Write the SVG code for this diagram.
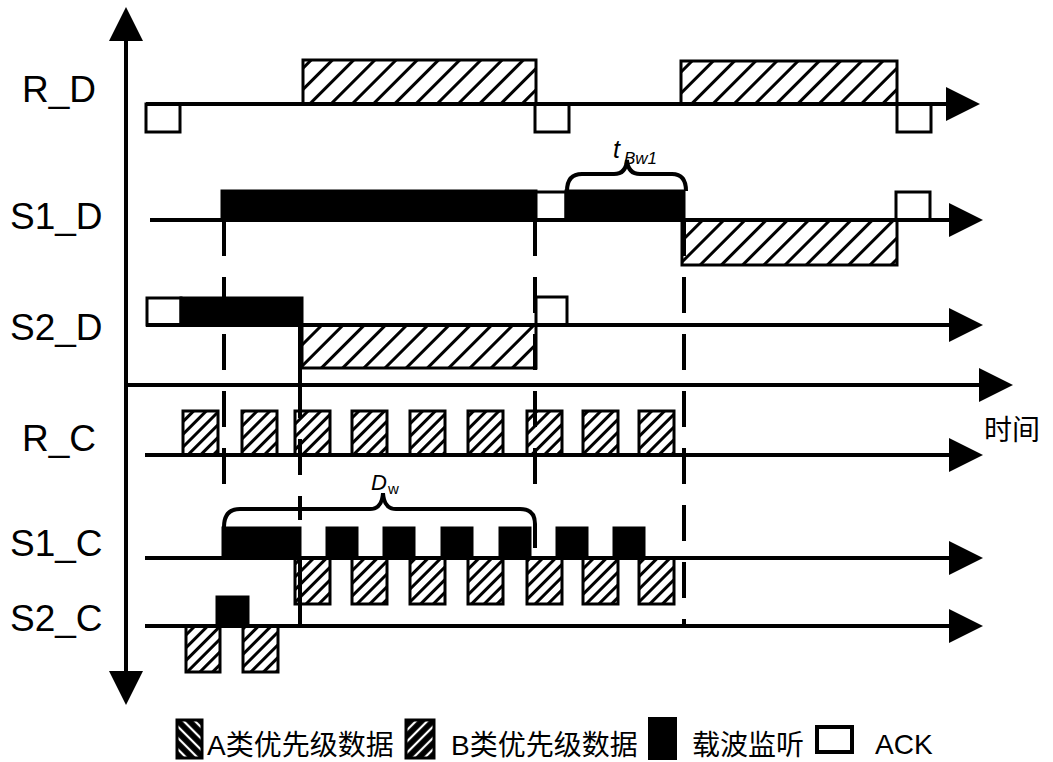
<svg xmlns="http://www.w3.org/2000/svg" width="1053" height="762" viewBox="0 0 1053 762">
<style>
.lbl{font-family:"Liberation Sans",Arial,sans-serif;font-size:37px;fill:#000}
.cjk{font-family:"Liberation Sans","Noto Sans CJK SC",sans-serif;font-size:28px;fill:#000}
.ln{stroke:#000;stroke-width:4;fill:none}
.ax{stroke:#000;stroke-width:4;fill:none;marker-end:url(#arr)}
.dash{stroke:#000;stroke-width:4;fill:none;stroke-dasharray:36 21}
.hb{fill:url(#hatchB);stroke:#000;stroke-width:3}
.hs{fill:url(#hatchS);stroke:#000;stroke-width:3}
.blk{fill:#000;stroke:#000;stroke-width:3}
.ack{fill:#fff;stroke:#000;stroke-width:3}
.it{font-family:"Liberation Sans",Arial,sans-serif;font-style:italic;fill:#000}
</style>
<defs>
<marker id="arr" markerUnits="userSpaceOnUse" markerWidth="36" markerHeight="36" refX="10" refY="17" orient="auto-start-reverse"><path d="M0,0 L34,17 L0,34 z" fill="#000"/></marker>
<pattern id="hatchB" patternUnits="userSpaceOnUse" width="15" height="15" patternTransform="rotate(45)"><line x1="7.5" y1="0" x2="7.5" y2="15" stroke="#000" stroke-width="3"/></pattern>
<pattern id="hatchS" patternUnits="userSpaceOnUse" width="9" height="9" patternTransform="rotate(45)"><line x1="4.5" y1="0" x2="4.5" y2="9" stroke="#000" stroke-width="3"/></pattern>
<pattern id="legA" patternUnits="userSpaceOnUse" width="8" height="8" patternTransform="rotate(-45)"><rect width="8" height="8" fill="#000"/><line x1="4" y1="0" x2="4" y2="8" stroke="#fff" stroke-width="2.2"/></pattern>
<pattern id="legB" patternUnits="userSpaceOnUse" width="8" height="8" patternTransform="rotate(45)"><rect width="8" height="8" fill="#000"/><line x1="4" y1="0" x2="4" y2="8" stroke="#fff" stroke-width="2.2"/></pattern>
</defs>
<rect width="1053" height="762" fill="#fff"/>

<g id="labels">
<text class="lbl" x="22" y="102">R_D</text>
<text class="lbl" x="10" y="229">S1_D</text>
<text class="lbl" x="10" y="340">S2_D</text>
<text class="lbl" x="22" y="451">R_C</text>
<text class="lbl" x="10" y="556">S1_C</text>
<text class="lbl" x="10" y="631">S2_C</text>
<text class="cjk" x="984" y="440" font-size="27">时间</text>
</g>

<g id="row-RD">
<rect class="hb" x="303" y="60" width="233" height="44"/>
<rect class="hb" x="681" y="61" width="216" height="43"/>
<rect class="ack" x="146" y="104" width="34" height="28"/>
<rect class="ack" x="535" y="104" width="34" height="28"/>
<rect class="ack" x="897" y="104" width="34" height="28"/>
</g>

<g id="row-S1D">
<rect class="blk" x="222" y="191" width="314" height="29"/>
<rect class="ack" x="536" y="192" width="30" height="28"/>
<rect class="blk" x="566" y="191" width="118" height="29"/>
<rect class="hb" x="682" y="220" width="215" height="45"/>
<rect class="ack" x="896" y="192" width="34" height="28"/>
</g>

<g id="row-S2D">
<rect class="ack" x="147" y="298" width="34" height="27"/>
<rect class="blk" x="181" y="298" width="121" height="27"/>
<rect class="hb" x="302" y="325" width="234" height="43"/>
<rect class="ack" x="536" y="297" width="31" height="28"/>
</g>

<g id="row-RC">
<rect class="hs" x="183" y="411" width="35" height="44"/>
<rect class="hs" x="242" y="411" width="35" height="44"/>
<rect class="hs" x="295" y="411" width="35" height="44"/>
<rect class="hs" x="352" y="411" width="35" height="44"/>
<rect class="hs" x="410" y="411" width="35" height="44"/>
<rect class="hs" x="468" y="411" width="35" height="44"/>
<rect class="hs" x="527" y="411" width="35" height="44"/>
<rect class="hs" x="583" y="411" width="35" height="44"/>
<rect class="hs" x="639" y="411" width="35" height="44"/>
</g>

<g id="row-S1C">
<rect class="blk" x="223" y="528" width="77" height="30"/>
<rect class="blk" x="327" y="528" width="30" height="30"/>
<rect class="blk" x="384" y="528" width="30" height="30"/>
<rect class="blk" x="442" y="528" width="30" height="30"/>
<rect class="blk" x="500" y="528" width="30" height="30"/>
<rect class="blk" x="557" y="528" width="30" height="30"/>
<rect class="blk" x="614" y="528" width="30" height="30"/>
<rect class="hs" x="295" y="558" width="35" height="46"/>
<rect class="hs" x="352" y="558" width="35" height="46"/>
<rect class="hs" x="410" y="558" width="35" height="46"/>
<rect class="hs" x="468" y="558" width="35" height="46"/>
<rect class="hs" x="527" y="558" width="35" height="46"/>
<rect class="hs" x="583" y="558" width="35" height="46"/>
<rect class="hs" x="639" y="558" width="35" height="46"/>
</g>

<g id="row-S2C">
<rect class="blk" x="217" y="597" width="31" height="29"/>
<rect class="hs" x="186" y="626" width="34" height="46"/>
<rect class="hs" x="243" y="626" width="35" height="46"/>
</g>

<g id="connectors">
<line class="ax" x1="126" y1="31" x2="126" y2="681" marker-start="url(#arr)"/>
<line class="ax" x1="146" y1="104" x2="956" y2="104"/>
<line class="ax" x1="150" y1="220" x2="959" y2="220"/>
<line class="ax" x1="146" y1="325" x2="959" y2="325"/>
<line class="ax" x1="126" y1="385" x2="989" y2="385"/>
<line class="ax" x1="145" y1="455" x2="959" y2="455"/>
<line class="ax" x1="145" y1="558" x2="959" y2="558"/>
<line class="ax" x1="145" y1="626" x2="959" y2="626"/>
<line class="dash" x1="224" y1="220" x2="224" y2="490"/>
<line class="dash" x1="535" y1="220" x2="535" y2="490"/>
<line class="dash" x1="684" y1="220" x2="684" y2="626"/>
<line class="dash" x1="300" y1="325" x2="300" y2="520"/>
<line class="ln" x1="300" y1="325" x2="300" y2="392"/>
<line class="ln" x1="300" y1="558" x2="300" y2="626"/>
</g>

<g id="annotations">
<path class="ln" d="M567,191 Q567,174 582,174 L614,174 Q626,174 627,160 Q628,174 640,174 L672,174 Q686,174 686,191"/>
<text class="it" x="613" y="158" font-size="25">t</text>
<text class="it" x="624" y="164" font-size="17">Bw1</text>
<path class="ln" d="M224,527 Q224,509 240,509 L370,509 Q382,509 383,493 Q384,509 396,509 L520,509 Q535,509 535,524 L535,548"/>
<text class="it" x="371" y="490" font-size="22">D</text>
<text x="388" y="494" font-size="15" font-family="Liberation Sans,Arial,sans-serif">w</text>
</g>

<g id="legend">
<rect x="177" y="720" width="25" height="38" fill="url(#legA)" stroke="#000" stroke-width="3"/>
<text class="cjk" x="207" y="755">A类优先级数据</text>
<rect x="406" y="720" width="28" height="38" fill="url(#legB)" stroke="#000" stroke-width="3"/>
<text class="cjk" x="451" y="755">B类优先级数据</text>
<rect x="648" y="717" width="29" height="43" fill="#000"/>
<text class="cjk" x="692" y="755">载波监听</text>
<rect x="817" y="727" width="35" height="25" fill="#fff" stroke="#000" stroke-width="4"/>
<text class="cjk" x="875" y="754" font-size="25">ACK</text>
</g>
</svg>
